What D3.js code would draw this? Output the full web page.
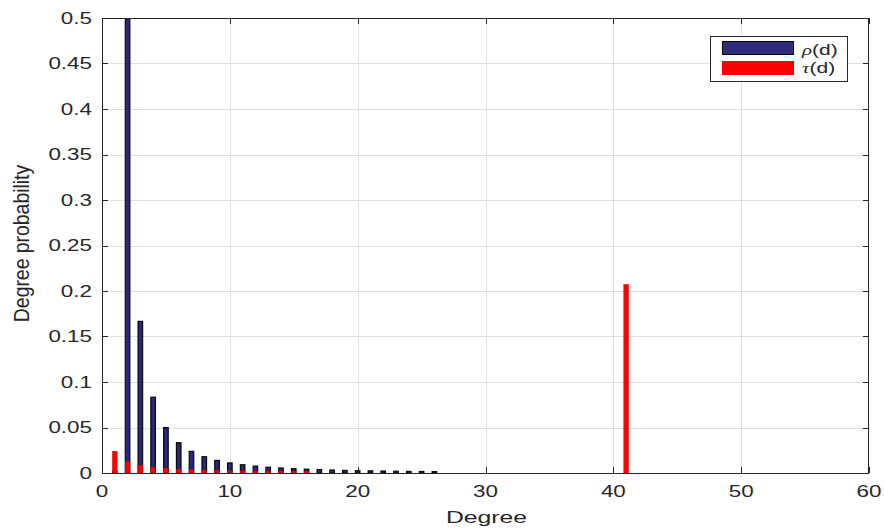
<!DOCTYPE html>
<html>
<head>
<meta charset="utf-8">
<script src="https://cdn.jsdelivr.net/npm/d3@7"></script>
<style>
  html, body { margin: 0; padding: 0; background: #ffffff; }
  text { font-family: "Liberation Sans", Arial, Helvetica, sans-serif; fill: #262626; }
</style>
</head>
<body>
<svg id="chart" width="884" height="529"></svg>
<script>
// ---- data ----
const rhoDegrees = [1,2,3,4,5,6,7,8,9,10,11,12,13,14,15,16,17,18,19,20,21,22,23,24,25,26];
const rhoValues  = [0.002,0.5,0.1667,0.0833,0.05,0.0333,0.0238,0.0179,0.0139,0.0111,0.0091,0.0076,0.0064,0.0055,0.0048,0.0042,0.0037,0.0033,0.0029,0.0026,0.0024,0.0022,0.0020,0.0018,0.0017,0.0015];
const tauDegrees = [1,2,3,4,5,6,7,8,9,10,11,12,13,14,15,16,41];
const tauValues  = [0.0238,0.0122,0.0081,0.0061,0.0049,0.0041,0.0035,0.0030,0.0027,0.0024,0.0022,0.0020,0.0019,0.0017,0.0016,0.0015,0.207];
const xTicks = [0,10,20,30,40,50,60];
const yTicks = [0,0.05,0.1,0.15,0.2,0.25,0.3,0.35,0.4,0.45,0.5];
const seriesNames = ["\u03C1", "\u03C4"];
const xLabel = "Degree";
const yLabel = "Degree probability";

// ---- layout ----
const L = 102, R = 869, T = 18, B = 473;
const svg = d3.select("#chart");
svg.append("rect").attr("width", 884).attr("height", 529).attr("fill", "#fff");

const x = d3.scaleLinear().domain([0, 60]).range([L, R]);
const y = d3.scaleLinear().domain([0, 0.5]).range([B, T]);
const barW = x(0.36) - x(0);

// grid
const grid = svg.append("g").attr("shape-rendering", "crispEdges");
grid.selectAll(".gx").data(xTicks.slice(1, -1)).join("line")
  .attr("x1", d => Math.round(x(d)) + 0.5).attr("x2", d => Math.round(x(d)) + 0.5)
  .attr("y1", T).attr("y2", B).attr("stroke", "#dfdfdf").attr("stroke-width", 1);
grid.selectAll(".gy").data(yTicks.slice(1, -1)).join("line")
  .attr("y1", d => Math.round(y(d)) + 0.5).attr("y2", d => Math.round(y(d)) + 0.5)
  .attr("x1", L).attr("x2", R).attr("stroke", "#dfdfdf").attr("stroke-width", 1);

// bars
const clip = svg.append("clipPath").attr("id", "plotclip");
clip.append("rect").attr("x", L).attr("y", T).attr("width", R - L).attr("height", B - T);
const bars = svg.append("g").attr("clip-path", "url(#plotclip)");
const rho = rhoDegrees.map((d, i) => ({ d, v: rhoValues[i] }));
const tau = tauDegrees.map((d, i) => ({ d, v: tauValues[i] }));
bars.selectAll(".rho").data(rho).join("rect")
  .attr("x", d => x(d.d) - barW / 2).attr("width", barW)
  .attr("y", d => y(d.v)).attr("height", d => B - y(d.v))
  .attr("fill", "#2B287A").attr("stroke", "#000").attr("stroke-width", 1.1);
bars.selectAll(".tau").data(tau).join("rect")
  .attr("x", d => x(d.d) - barW / 2).attr("width", barW)
  .attr("y", d => y(d.v)).attr("height", d => B - y(d.v))
  .attr("fill", "#FF0000").attr("stroke", "#E80000").attr("stroke-width", 0.6);

// axes box and ticks
const ax = svg.append("g").attr("shape-rendering", "crispEdges");
ax.append("rect").attr("x", L + 0.5).attr("y", T + 0.5).attr("width", R - L - 1).attr("height", B - T)
  .attr("fill", "none").attr("stroke", "#262626").attr("stroke-width", 1);
const tl = 6;
xTicks.forEach(t => {
  const px = Math.round(x(t)) + 0.5;
  ax.append("line").attr("x1", px).attr("x2", px).attr("y1", B).attr("y2", B - tl).attr("stroke", "#262626");
  ax.append("line").attr("x1", px).attr("x2", px).attr("y1", T).attr("y2", T + tl).attr("stroke", "#262626");
});
yTicks.forEach(t => {
  const py = Math.round(y(t)) + 0.5;
  ax.append("line").attr("x1", L).attr("x2", L + tl).attr("y1", py).attr("y2", py).attr("stroke", "#262626");
  ax.append("line").attr("x1", R).attr("x2", R - tl).attr("y1", py).attr("y2", py).attr("stroke", "#262626");
});

// stretched text helper (the reference text is horizontally widened)
function stext(str, px, py, anchor, size, sx) {
  return svg.append("text").text(str)
    .attr("transform", `translate(${px},${py}) scale(${sx},1)`)
    .attr("text-anchor", anchor).attr("font-size", size);
}

const tickFmt = d3.format("");
yTicks.forEach(t => stext(tickFmt(t), 92, y(t) + 5.8, "end", 16, 1.4));
xTicks.forEach(t => stext(tickFmt(t), x(t), 497, "middle", 16, 1.4));
stext(xLabel, (L + R) / 2 + 1, 523, "middle", 16.5, 1.5);

svg.append("text").text(yLabel)
  .attr("transform", `translate(29,${(T + B) / 2 - 2}) rotate(-90) scale(1,1.1)`)
  .attr("text-anchor", "middle").attr("font-size", 19.4);

// legend
const lg = svg.append("g");
lg.append("rect").attr("x", 710.5).attr("y", 36.5).attr("width", 137).attr("height", 45)
  .attr("fill", "#fff").attr("stroke", "#262626").attr("stroke-width", 1).attr("shape-rendering", "crispEdges");
const legendColors = [["#2F2C7E", "#000"], ["#FF0000", "#FF0000"]];
const legendY = [41, 61];
const legendBase = [54.5, 73];
seriesNames.forEach((s, i) => {
  lg.append("rect").attr("x", 722.5).attr("y", legendY[i] + 0.5).attr("width", 71).attr("height", 13)
    .attr("fill", legendColors[i][0]).attr("stroke", legendColors[i][1]).attr("stroke-width", 1);
  const t = svg.append("text")
    .attr("transform", `translate(802,${legendBase[i]}) scale(1.4,1)`)
    .attr("font-size", 15);
  t.append("tspan").text(s).attr("font-style", "italic").attr("font-family", "'Liberation Serif', serif");
  t.append("tspan").text("(d)");
});
</script>
</body>
</html>
